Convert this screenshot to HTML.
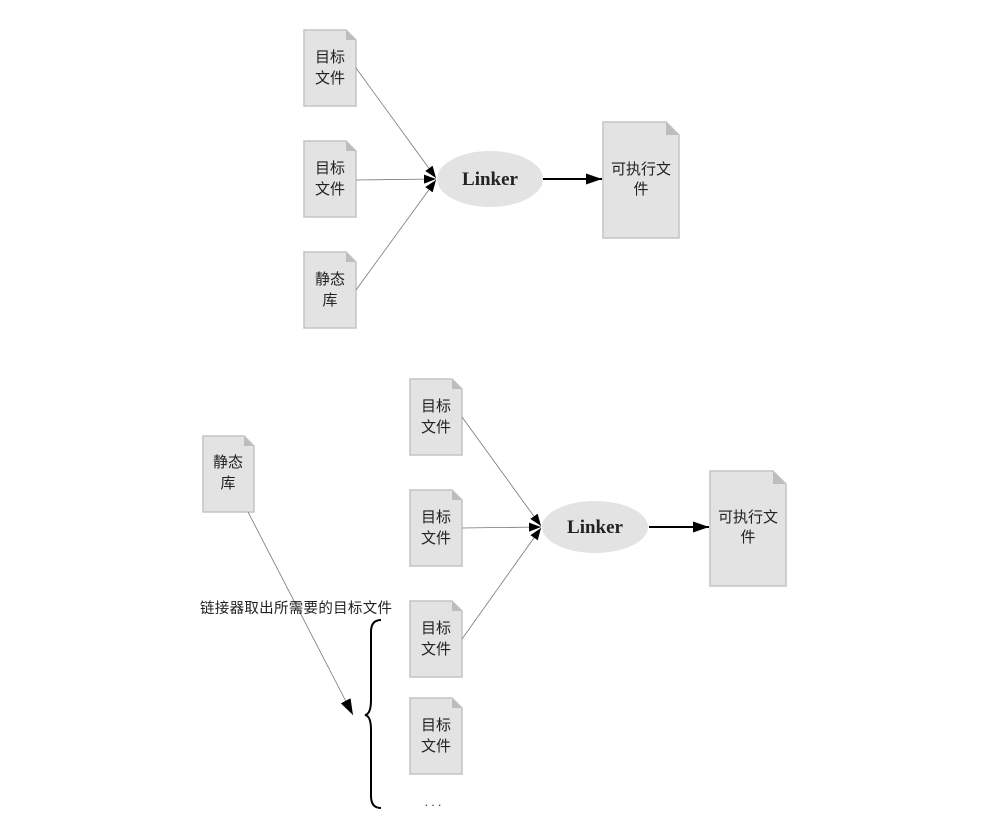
<!DOCTYPE html>
<html><head><meta charset="utf-8"><style>
html,body{margin:0;padding:0;background:#fff;}
svg{display:block;}
text{font-family:"Liberation Sans","Noto Sans CJK SC",sans-serif;fill:#222;}
</style></head><body>
<svg width="984" height="824" viewBox="0 0 984 824" xmlns="http://www.w3.org/2000/svg">
<defs>
<marker id="a" markerWidth="12" markerHeight="9" refX="12" refY="4.5" orient="auto" markerUnits="userSpaceOnUse"><path d="M0,0 L12,4.5 L0,9 Z" fill="#000"/></marker>
<marker id="b" markerWidth="16" markerHeight="11" refX="16" refY="5.5" orient="auto" markerUnits="userSpaceOnUse"><path d="M0,0 L16,5.5 L0,11 Z" fill="#000"/></marker>
</defs>
<g fill="#e3e3e3" stroke="#c4c4c4" stroke-width="1.5">
<path d="M304,30 H346 L356,40 V106 H304 Z"/>
<path d="M304,141 H346 L356,151 V217 H304 Z"/>
<path d="M304,252 H346 L356,262 V328 H304 Z"/>
<path d="M603,122 H666 L679,135 V238 H603 Z"/>
<path d="M410,379 H452 L462,389 V455 H410 Z"/>
<path d="M410,490 H452 L462,500 V566 H410 Z"/>
<path d="M410,601 H452 L462,611 V677 H410 Z"/>
<path d="M410,698 H452 L462,708 V774 H410 Z"/>
<path d="M710,471 H773 L786,484 V586 H710 Z"/>
<path d="M203,436 H244 L254,446 V512 H203 Z"/>
</g>
<g fill="#bdbdbd">
<path d="M346,30 L356,40 H346 Z"/><path d="M346,141 L356,151 H346 Z"/><path d="M346,252 L356,262 H346 Z"/>
<path d="M666,122 L679,135 H666 Z"/>
<path d="M452,379 L462,389 H452 Z"/><path d="M452,490 L462,500 H452 Z"/><path d="M452,601 L462,611 H452 Z"/><path d="M452,698 L462,708 H452 Z"/>
<path d="M773,471 L786,484 H773 Z"/><path d="M244,436 L254,446 H244 Z"/>
</g>
<ellipse cx="490" cy="179" rx="53" ry="28" fill="#e3e3e3"/>
<ellipse cx="595" cy="527" rx="53" ry="26" fill="#e3e3e3"/>
<g stroke="#777" stroke-width="0.8" fill="none">
<line x1="356" y1="68" x2="436" y2="178" marker-end="url(#a)"/>
<line x1="356" y1="180" x2="436" y2="179" marker-end="url(#a)"/>
<line x1="356" y1="290" x2="436" y2="180" marker-end="url(#a)"/>
<line x1="462" y1="417" x2="541" y2="526" marker-end="url(#a)"/>
<line x1="462" y1="528" x2="541" y2="527" marker-end="url(#a)"/>
<line x1="462" y1="639" x2="541" y2="528" marker-end="url(#a)"/>
<line x1="248" y1="512" x2="353" y2="715" marker-end="url(#b)"/>
</g>
<g stroke="#000" stroke-width="2" fill="none">
<line x1="543" y1="179" x2="602" y2="179" marker-end="url(#b)"/>
<line x1="649" y1="527" x2="709" y2="527" marker-end="url(#b)"/>
</g>
<path d="M381,620 Q371,620 371,632 V700 Q371,714 365,715 Q371,716 371,730 V796 Q371,808 381,808" stroke="#000" stroke-width="2" fill="none"/>
<g font-size="15" text-anchor="middle">
<text x="330" y="62">目标</text><text x="330" y="83">文件</text>
<text x="330" y="173">目标</text><text x="330" y="194">文件</text>
<text x="330" y="284">静态</text><text x="330" y="305">库</text>
<text x="641" y="174">可执行文</text><text x="641" y="194">件</text>
<text x="436" y="411">目标</text><text x="436" y="432">文件</text>
<text x="436" y="522">目标</text><text x="436" y="543">文件</text>
<text x="436" y="633">目标</text><text x="436" y="654">文件</text>
<text x="436" y="730">目标</text><text x="436" y="751">文件</text>
<text x="748" y="522">可执行文</text><text x="748" y="542">件</text>
<text x="228" y="467">静态</text><text x="228" y="488">库</text>
</g>
<text x="200" y="613" font-size="14.5" fill="#333" textLength="192">链接器取出所需要的目标文件</text>
<text x="433" y="806" font-size="12" fill="#999" text-anchor="middle">. . .</text>
<text x="490" y="185" font-size="19" font-weight="bold" text-anchor="middle" style="font-family:'Liberation Serif',serif">Linker</text>
<text x="595" y="533" font-size="19" font-weight="bold" text-anchor="middle" style="font-family:'Liberation Serif',serif">Linker</text>
</svg>
</body></html>
